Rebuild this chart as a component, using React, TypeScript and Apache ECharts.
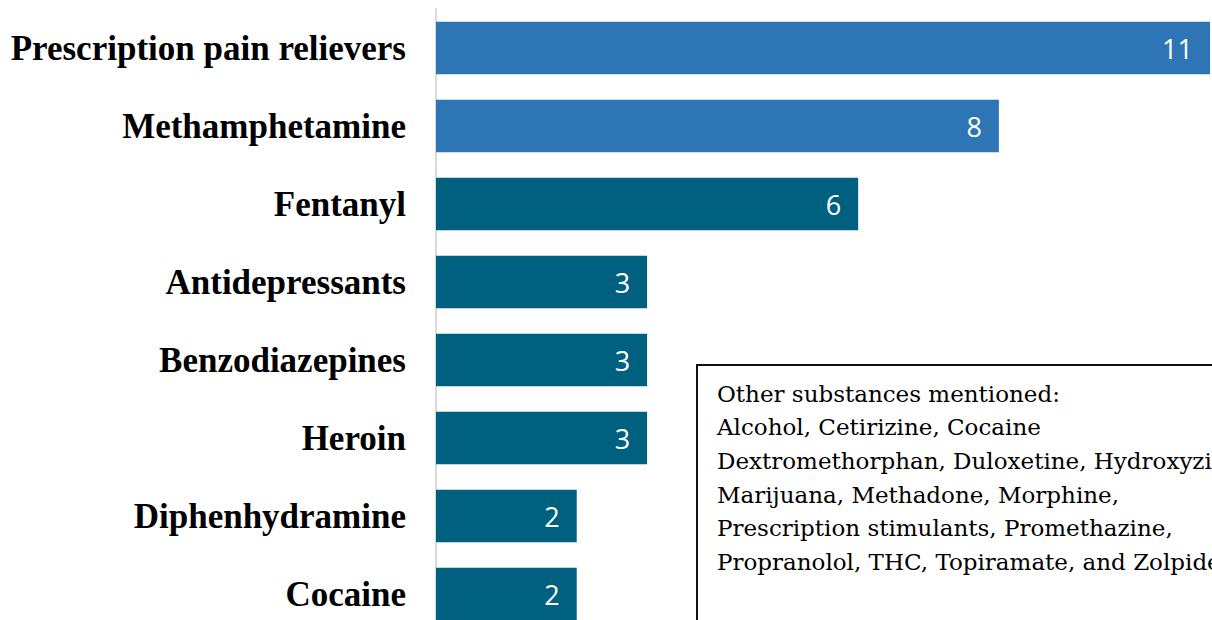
import React, { useEffect, useRef } from "react";
import * as echarts from "echarts";

const categories = [
  "Prescription pain relievers",
  "Methamphetamine",
  "Fentanyl",
  "Antidepressants",
  "Benzodiazepines",
  "Heroin",
  "Diphenhydramine",
  "Cocaine",
];
const values = [11, 8, 6, 3, 3, 3, 2, 2];
const barColors = ["#2E75B6", "#2E75B6", "#00607F", "#00607F", "#00607F", "#00607F", "#00607F", "#00607F"];
const noteLines = [
  "Other substances mentioned:",
  "Alcohol, Cetirizine, Cocaine",
  "Dextromethorphan, Duloxetine, Hydroxyzine,",
  "Marijuana, Methadone, Morphine,",
  "Prescription stimulants, Promethazine,",
  "Propranolol, THC, Topiramate, and Zolpidem",
];

export default function App() {
  const ref = useRef<HTMLDivElement>(null);
  useEffect(() => {
    document.body.style.margin = "0";
    const chart = echarts.init(ref.current!, undefined, { renderer: "svg" });
    chart.setOption({
      animation: false,
      backgroundColor: "#ffffff",
      grid: { left: 436, right: 2, top: 9, bottom: 0, containLabel: false },
      xAxis: { type: "value", min: 0, max: 11, show: false },
      yAxis: {
        type: "category",
        data: categories,
        inverse: true,
        axisLine: { show: true, lineStyle: { color: "#d9d9d9", width: 2 } },
        axisTick: { show: false },
        axisLabel: {
          margin: 30,
          color: "#000000",
          fontFamily: "Liberation Serif",
          fontWeight: "bold",
          fontSize: 35,
        },
      },
      series: [
        {
          type: "bar",
          data: values.map((v, i) => ({ value: v, itemStyle: { color: barColors[i] } })),
          barCategoryGap: "33%",
          label: {
            show: true,
            position: "insideRight",
            distance: 17,
            color: "#ffffff",
            fontFamily: "Open Sans",
            fontSize: 27,
          },
        },
      ],
      graphic: [
        {
          type: "rect",
          shape: { x: 697, y: 365, width: 700, height: 400 },
          style: { fill: "#ffffff", stroke: "#111111", lineWidth: 2 },
          z: 10,
        },
        {
          type: "text",
          x: 717,
          y: 377,
          z: 11,
          style: {
            text: noteLines.join("\n"),
            fill: "#000000",
            font: "23px 'DejaVu Serif'",
            lineHeight: 33.6,
          },
        },
      ],
    });
    return () => chart.dispose();
  }, []);
  return (
    <div style={{ position: "absolute", left: 0, top: 0, width: 1212, height: 620, overflow: "hidden" }}>
      <div ref={ref} style={{ width: 1212, height: 633 }} />
    </div>
  );
}
